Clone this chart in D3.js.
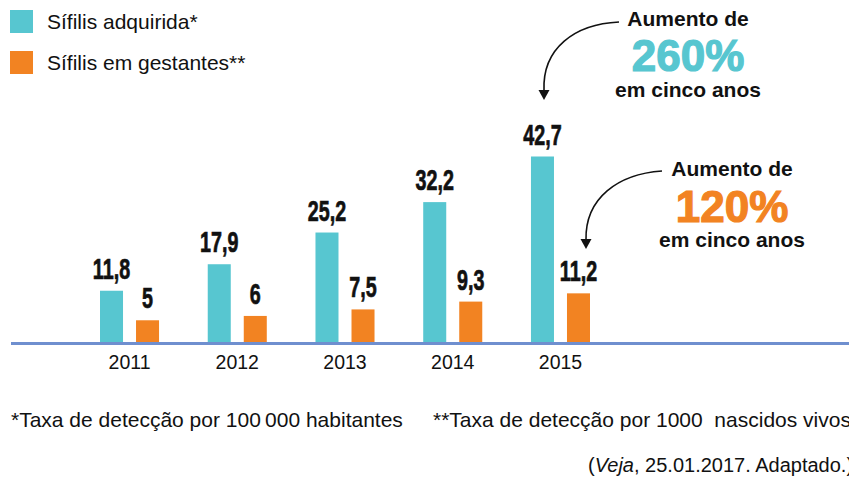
<html>
<head>
<meta charset="utf-8">
<script src="https://d3js.org/d3.v7.min.js"></script>
<style>
body { margin: 0; background: #fff; }
svg { display: block; font-family: "Liberation Sans", Arial, sans-serif; }
</style>
</head>
<body>
<div id="chart"></div>
<script>

// data
var years = ["2011", "2012", "2013", "2014", "2015"];
var seriesNames = ["Sífilis adquirida*", "Sífilis em gestantes**"];
var adquirida = [11.8, 17.9, 25.2, 32.2, 42.7];
var gestantes = [5, 6, 7.5, 9.3, 11.2];
var colors = ["#57c6d0", "#f28322"];
var notes = ["*Taxa de detecção por 100\u2009000 habitantes", "**Taxa de detecção por 1000\u00a0 nascidos vivos"];
var annotAdq = ["Aumento de", "260%", "em cinco anos"];
var annotGest = ["Aumento de", "120%", "em cinco anos"];

var width = 849, height = 478;
var baseY = 342;

var svg = d3.select("#chart").append("svg")
.attr("width", width).attr("height", height);

var x0 = d3.scaleBand().domain(years).range([100, 590]).paddingInner(0.452).paddingOuter(0);
var x1 = d3.scaleBand().domain(seriesNames).range([0, x0.bandwidth()]).paddingInner(0.361);
var y = d3.scaleLinear().domain([0, 42.7]).range([baseY, 156.5]);

var rows = years.map(function (yr, i) {
	return { year: yr, values: [adquirida[i], gestantes[i]] };
});

/*** bars ***/
var groups = svg.selectAll("g.year").data(rows).enter()
.append("g").attr("class", "year")
.attr("transform", function (d) { return "translate(" + x0(d.year) + ",0)"; });

groups.selectAll("rect").data(function (d) {
	return d.values.map(function (v, j) { return { name: seriesNames[j], value: v, idx: j }; });
}).enter().append("rect")
.attr("x", function (d) { return x1(d.name); })
.attr("y", function (d) { return y(d.value); })
.attr("width", x1.bandwidth())
.attr("height", function (d) { return baseY - y(d.value); })
.style("fill", function (d) { return colors[d.idx]; });

// value labels, condensed look by squeezing bold Arial
groups.selectAll("g.val").data(function (d) {
	return d.values.map(function (v, j) { return { name: seriesNames[j], value: v }; });
}).enter().append("g").attr("class", "val")
.attr("transform", function (d) {
	return "translate(" + (x1(d.name) + x1.bandwidth() / 2) + "," + (y(d.value) - 12) + ") scale(0.68,1)";
})
.append("text")
.attr("text-anchor", "middle")
.style("font-size", "29px").style("font-weight", "bold").style("fill", "#111")
.style("stroke", "#111").style("stroke-width", 0.7)
.text(function (d) { return String(d.value).replace(".", ","); });

/*** axis line + year labels ***/
svg.append("line")
.attr("x1", 11).attr("x2", width).attr("y1", baseY + 1.5).attr("y2", baseY + 1.5)
.style("stroke", "#6f8fcf").style("stroke-width", 3);

var xAxis = d3.axisBottom(x0).tickSize(0).tickPadding(0);
var axisG = svg.append("g").attr("transform", "translate(0," + baseY + ")").call(xAxis);
axisG.select(".domain").remove();
axisG.selectAll("text")
.attr("dy", null).attr("y", 27)
.style("font-size", "19.5px").style("fill", "#111")
.style("font-family", "'Liberation Sans', Arial, sans-serif");

/*** legend ***/
var legend = svg.selectAll("g.legend").data(seriesNames).enter()
.append("g").attr("class", "legend")
.attr("transform", function (d, i) { return "translate(10," + (10 + i * 41) + ")"; });
legend.append("rect").attr("width", 23).attr("height", 23)
.style("fill", function (d, i) { return colors[i]; });
legend.append("text").attr("x", 37).attr("y", 18.5)
.style("font-size", "21px").style("fill", "#111")
.text(function (d) { return d; });

/*** annotations ***/
function annotation(lines, cx, ys, color) {
	var g = svg.append("g").attr("text-anchor", "middle").style("font-weight", "bold");
	g.append("text").attr("x", cx).attr("y", ys[0]).style("font-size", "21px").style("fill", "#111").text(lines[0]);
	g.append("text").attr("x", cx).attr("y", ys[1]).style("font-size", "44px").style("fill", color)
	.style("stroke", color).style("stroke-width", 1.2).text(lines[1]);
	g.append("text").attr("x", cx).attr("y", ys[2]).style("font-size", "21px").style("fill", "#111").text(lines[2]);
}
annotation(annotAdq, 688, [26, 70.5, 97], colors[0]);
annotation(annotGest, 732, [176, 222, 247], colors[1]);

function arrow(path, tipX, tipY) {
	svg.append("path").attr("d", path)
	.style("fill", "none").style("stroke", "#111").style("stroke-width", 1.6);
	svg.append("path")
	.attr("d", "M" + (tipX - 5.5) + "," + (tipY - 10) + "L" + (tipX + 5.5) + "," + (tipY - 10) + "L" + tipX + "," + tipY + "Z")
	.style("fill", "#111");
}
arrow("M619,22 C575,24 542,48 544,91", 544, 100);
arrow("M662,171 C618,174 585,198 586,240", 586, 249);

/*** footnotes ***/
svg.append("text").attr("x", 11).attr("y", 426.5)
.style("font-size", "21px").style("fill", "#111").text(notes[0]);
svg.append("text").attr("x", 433).attr("y", 426.5)
.style("font-size", "21px").style("fill", "#111").text(notes[1]);

var src = svg.append("text").attr("x", 588).attr("y", 471.5)
.style("font-size", "20px").style("fill", "#111");
src.append("tspan").text("(");
src.append("tspan").style("font-style", "italic").text("Veja");
src.append("tspan").text(", 25.01.2017. Adaptado.)");

</script>
</body>
</html>
